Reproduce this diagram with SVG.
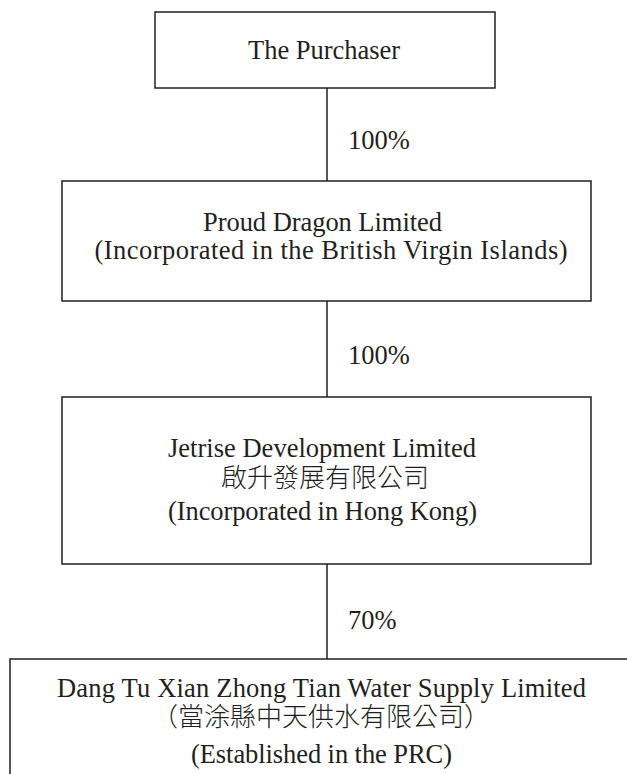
<svg xmlns="http://www.w3.org/2000/svg" width="627" height="774" viewBox="0 0 627 774">
<style>
.box{fill:#fff;stroke:#231f20;stroke-width:1.5}
.ln{stroke:#231f20;stroke-width:1.5;fill:none}
text{font-family:"Liberation Serif","Times New Roman",serif;font-size:26.5px;fill:#231f20}
.c{text-anchor:middle}
.zh{font-family:"Liberation Serif","Noto Sans CJK TC","Noto Sans CJK SC",serif;font-size:26px;font-weight:300}
</style>
<rect width="627" height="774" fill="#fff"/>
<g id="connectors">
<line class="ln" x1="327" y1="88" x2="327" y2="181"/>
<line class="ln" x1="327" y1="301" x2="327" y2="397"/>
<line class="ln" x1="327" y1="564" x2="327" y2="659"/>
<text x="348" y="149">100%</text>
<text x="348" y="364">100%</text>
<text x="348" y="629">70%</text>
</g>
<g id="purchaser">
<rect class="box" x="155" y="12" width="340" height="76"/>
<text class="c" x="324" y="59" textLength="152" lengthAdjust="spacing">The Purchaser</text>
</g>
<g id="proud-dragon">
<rect class="box" x="62" y="181" width="529" height="120"/>
<text class="c" x="322.5" y="231" textLength="239" lengthAdjust="spacing">Proud Dragon Limited</text>
<text class="c" x="331" y="259" textLength="473" lengthAdjust="spacing">(Incorporated in the British Virgin Islands)</text>
</g>
<g id="jetrise">
<rect class="box" x="62" y="397" width="529" height="167"/>
<text class="c" x="322" y="457" textLength="308" lengthAdjust="spacing">Jetrise Development Limited</text>
<text class="c zh" x="325" y="487">啟升發展有限公司</text>
<text class="c" x="322.5" y="520" textLength="309" lengthAdjust="spacing">(Incorporated in Hong Kong)</text>
</g>
<g id="dang-tu">
<rect class="box" x="10" y="659" width="630" height="130"/>
<text class="c" x="321.5" y="697" textLength="529" lengthAdjust="spacing">Dang Tu Xian Zhong Tian Water Supply Limited</text>
<text class="c zh" x="321" y="726">（當涂縣中天供水有限公司）</text>
<text class="c" x="321.5" y="763" textLength="261" lengthAdjust="spacing">(Established in the PRC)</text>
</g>
</svg>
